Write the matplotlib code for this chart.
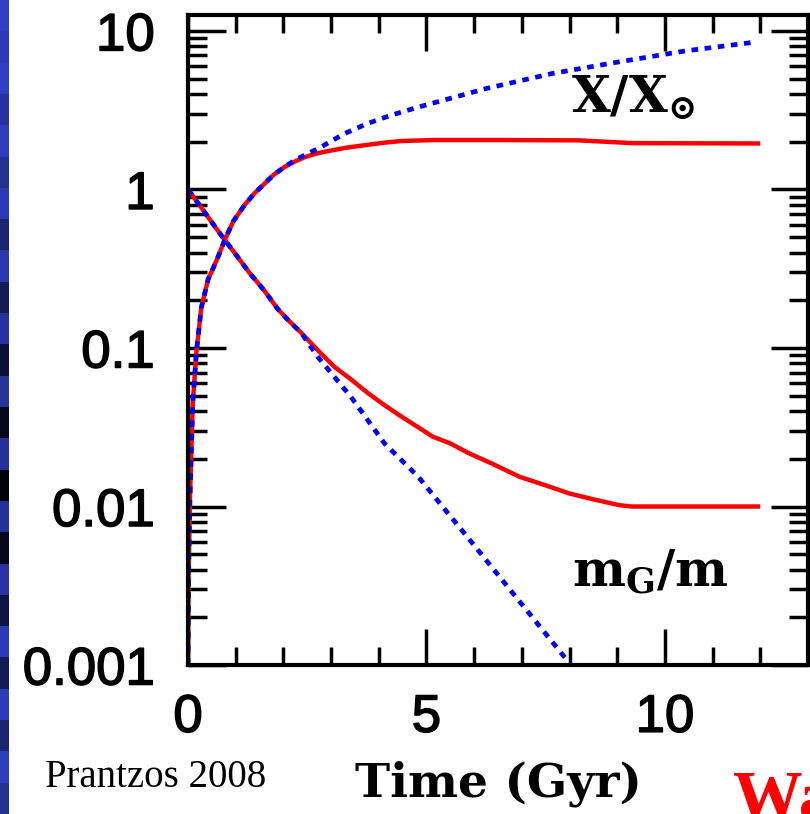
import numpy as np
import matplotlib
matplotlib.use("Agg")
import matplotlib.pyplot as plt
import matplotlib.patheffects as pe
from matplotlib.patches import Rectangle
from matplotlib.ticker import FixedLocator, MultipleLocator, NullFormatter

plt.rcParams['mathtext.fontset'] = 'dejavuserif'

# abundance X/Xsun, model with gas floor (red) and simple closed box (blue)
t_x_red = [0, 0.015, 0.04, 0.1, 0.18, 0.28, 0.42, 0.53, 0.63, 0.77, 0.95, 1.19, 1.40, 1.61,
           1.80, 2.03, 2.24, 2.45, 2.65, 2.87, 3.30, 3.70, 4.10, 4.47, 5.17, 6.5, 8.2, 9.3, 12.0]
x_red = [0.001, 0.004, 0.011, 0.045, 0.097, 0.18, 0.27, 0.32, 0.376, 0.48, 0.63, 0.80, 0.95, 1.09,
         1.24, 1.39, 1.50, 1.60, 1.67, 1.73, 1.83, 1.90, 1.97, 2.02, 2.05, 2.05, 2.04, 1.96, 1.95]
t_x_blue = [0, 0.015, 0.04, 0.1, 0.18, 0.28, 0.42, 0.53, 0.63, 0.77, 0.95, 1.19, 1.40, 1.61,
            1.80, 2.03, 2.24, 2.80, 3.28, 3.77, 4.26, 4.82, 5.13, 6.25, 7.64, 9.04, 10.43, 11.93]
x_blue = [0.001, 0.004, 0.011, 0.045, 0.097, 0.18, 0.27, 0.32, 0.376, 0.48, 0.63, 0.80, 0.95, 1.09,
          1.24, 1.39, 1.53, 1.86, 2.25, 2.61, 2.94, 3.30, 3.50, 4.33, 5.39, 6.38, 7.48, 8.53]

# gas fraction mG/m
t_g_red = [0, 0.25, 0.5, 0.77, 1.0, 1.28, 1.6, 1.89, 2.1, 2.38, 2.72, 3.07, 3.4, 3.77, 4.1, 4.47,
           4.8, 5.13, 5.5, 5.90, 6.4, 6.95, 7.5, 7.99, 8.5, 9.04, 9.3, 12.0]
g_red = [1, 0.79, 0.62, 0.48, 0.39, 0.30, 0.23, 0.175, 0.15, 0.124, 0.097, 0.076, 0.064, 0.052,
         0.044, 0.037, 0.032, 0.0276, 0.025, 0.0216, 0.0185, 0.0154, 0.0136, 0.0121, 0.0111,
         0.0102, 0.0100, 0.0100]
t_g_blue = [0, 0.25, 0.5, 0.77, 1.0, 1.28, 1.6, 1.89, 2.1, 2.38, 2.72, 3.42, 4.12, 4.82, 6.04, 8.03]
g_blue = [1, 0.79, 0.62, 0.48, 0.39, 0.30, 0.23, 0.175, 0.15, 0.124, 0.088, 0.049, 0.025,
          0.0155, 0.0055, 0.001]

y_ticks = [0.001, 0.01, 0.1, 1, 10]
y_labels = ['0.001', '0.01', '0.1', '1', '10']
x_ticks = [0, 5, 10]

fig = plt.figure(figsize=(8.1, 8.14), dpi=100)
ax = fig.add_axes([0.2321, 0.1830, 0.7654, 0.7985])

ax.plot(t_x_red, x_red, color='red', lw=3.2, solid_capstyle='butt')
ax.plot(t_g_red, g_red, color='red', lw=3.2, solid_capstyle='butt')
ax.plot(t_x_blue, x_blue, color='blue', lw=3.4, linestyle=(0, (1.4, 1.4)))
ax.plot(t_g_blue, g_blue, color='blue', lw=3.4, linestyle=(0, (1.4, 1.4)))

ax.set_yscale('log')
ax.set_xlim(0, 13)
ax.set_ylim(0.001, 10 ** 1.1)

ax.yaxis.set_major_locator(FixedLocator(y_ticks))
ax.set_yticklabels(y_labels)
ax.yaxis.set_minor_locator(FixedLocator([m * 10.0 ** e for e in range(-3, 2) for m in range(2, 10)]))
ax.yaxis.set_minor_formatter(NullFormatter())
ax.xaxis.set_major_locator(FixedLocator(x_ticks))
ax.xaxis.set_minor_locator(MultipleLocator(1))

for s in ax.spines.values():
    s.set_linewidth(3)
ax.tick_params(which='both', direction='in', top=True, right=True, width=2.5)
ax.tick_params(axis='x', which='major', length=26, pad=20)
ax.tick_params(axis='x', which='minor', length=13)
ax.tick_params(axis='y', which='major', length=27, pad=24)
ax.tick_params(axis='y', which='minor', length=14)
thick = [pe.withStroke(linewidth=1.1, foreground='black')]
for lab in ax.get_xticklabels() + ax.get_yticklabels():
    lab.set_fontfamily('Liberation Sans')
    lab.set_fontsize(38)
    lab.set_path_effects(thick)

ax.text(8.03, 3.07, r'$\mathbf{X/X_{\odot}}$', fontsize=36, va='baseline', ha='left')
ax.text(8.05, 0.00311, r'$\mathbf{m_G/m}$', fontsize=36, va='baseline', ha='left')

fig.text(0.615, 0.021, 'Time (Gyr)', fontsize=34, fontfamily='DejaVu Serif',
         fontweight='bold', ha='center', va='baseline')
fig.text(0.055, 0.033, 'Prantzos 2008', fontsize=28, fontfamily='Liberation Serif',
         ha='left', va='baseline')
fig.text(0.905, -0.006, 'Wa', fontsize=50, fontfamily='Liberation Serif',
         fontweight='bold', color='red', ha='left', va='baseline')

# slide background strip on the left edge
strip = ['#2f3fc6', '#2a3ab8', '#2f3fc6', '#26339f', '#2e3dc0', '#22308f', '#2a39b5',
         '#1a2470', '#2838ad', '#121a55', '#2533a0', '#0b1038', '#25339c', '#05071c',
         '#24319a', '#020308', '#24319a', '#05071c', '#2634a0', '#0d1442', '#2b3ab6',
         '#121a58', '#2c3bb8', '#1a2472', '#2e3ec0', '#22308f']
h = 1.0 / len(strip)
for i, c in enumerate(strip):
    fig.add_artist(Rectangle((0, 1 - (i + 1) * h), 9 / 810, h, transform=fig.transFigure,
                             color=c, lw=0))

fig.savefig('out.png', dpi=100)
